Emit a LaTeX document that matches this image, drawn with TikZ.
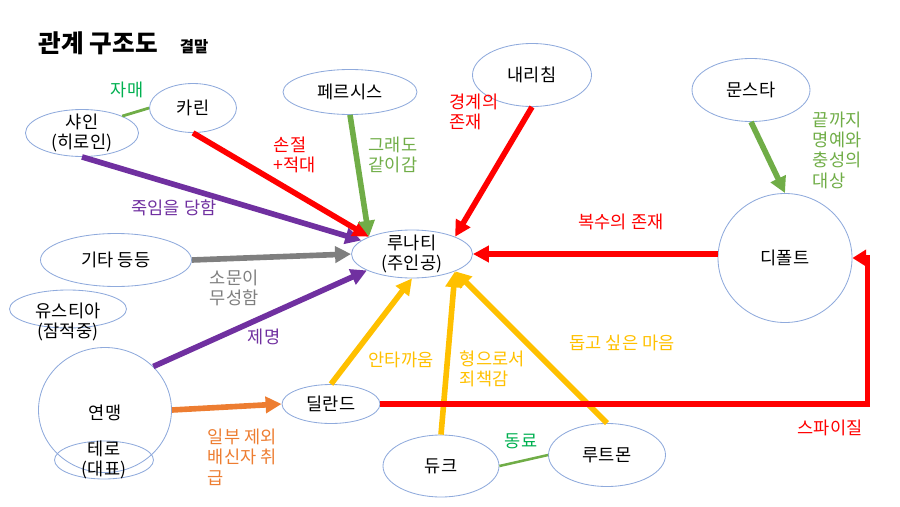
\documentclass[tikz,border=0pt]{standalone}
\usepackage{fontspec}
\setmainfont{Noto Sans CJK KR}
\usetikzlibrary{shapes.geometric,arrows.meta}

\definecolor{ellblue}{HTML}{8FAADC}
\definecolor{kred}{HTML}{FF0000}
\definecolor{kpurple}{HTML}{7030A0}
\definecolor{kgreen}{HTML}{70AD47}
\definecolor{kteal}{HTML}{00B050}
\definecolor{kgray}{HTML}{7F7F7F}
\definecolor{korange}{HTML}{ED7D31}
\definecolor{kyellow}{HTML}{FFC000}

\begin{document}
\begin{tikzpicture}[x=0.025cm,y=-0.025cm,
    >={Triangle[length=4mm,width=4mm]},
    ell/.style={ellipse, draw=ellblue, line width=0.6pt, inner sep=0pt},
    txt/.style={font=\fontsize{12.5}{14.5}\selectfont, align=center},
    lbl/.style={font=\fontsize{12.5}{14.5}\selectfont, align=left},
    rel/.style={line width=4pt}]
        \useasboundingbox (0,0) rectangle (900,506);

        % title
        \node[anchor=west, font=\fontsize{17.5}{20}\selectfont\bfseries] (title) at (34,43) {관계 구조도};
        \node[anchor=west, font=\fontsize{11}{12}\selectfont\bfseries] (ending) at (175,47) {결말};

        % characters
        \node[ell, minimum width=121*0.025cm, minimum height=48*0.025cm] (luna) at (412,254) {};
        \node[txt] (luna-t) at (luna) {루나티\\(주인공)};
        \node[ell, minimum width=113*0.025cm, minimum height=47*0.025cm] (shain) at (82,133) {};
        \node[txt] (shain-t) at (shain) {샤인\\(히로인)};
        \node[ell, minimum width=87*0.025cm, minimum height=49*0.025cm] (karin) at (193,108) {};
        \node[txt] (karin-t) at (karin) {카린};
        \node[ell, minimum width=134*0.025cm, minimum height=45*0.025cm] (persis) at (350,92) {};
        \node[txt] (persis-t) at (persis) {페르시스};
        \node[ell, minimum width=119*0.025cm, minimum height=63*0.025cm] (naeri) at (532,75) {};
        \node[txt] (naeri-t) at (naeri) {내리침};
        \node[ell, minimum width=118*0.025cm, minimum height=63*0.025cm] (moon) at (751,90) {};
        \node[txt] (moon-t) at (moon) {문스타};
        \node[ell, minimum width=134*0.025cm, minimum height=129*0.025cm] (dfault) at (785,258) {};
        \node[txt] (dfault-t) at (dfault) {디폴트};
        \node[ell, minimum width=151*0.025cm, minimum height=53*0.025cm] (etc) at (116,260) {};
        \node[txt] (etc-t) at (etc) {기타 등등};
        \node[ell, minimum width=117*0.025cm, minimum height=38*0.025cm] (eustia) at (68,309) {};
        \node[txt] (eustia-t) at (68,322) {유스티아\\(잠적중)};
        \node[ell, minimum width=133*0.025cm, minimum height=125*0.025cm] (union) at (105,410) {};
        \node[txt] (union-t) at (105,413) {연맹};
        \node[ell, minimum width=99*0.025cm, minimum height=38*0.025cm] (tero) at (104,460) {};
        \node[txt] (tero-t) at (tero) {테로\\(대표)};
        \node[ell, minimum width=98*0.025cm, minimum height=39*0.025cm] (dilland) at (331,404) {};
        \node[txt] (dilland-t) at (dilland) {딜란드};
        \node[ell, minimum width=116*0.025cm, minimum height=62*0.025cm] (duke) at (441,466) {};
        \node[txt] (duke-t) at (duke) {듀크};
        \node[ell, minimum width=117*0.025cm, minimum height=63*0.025cm] (rootmon) at (607,455) {};
        \node[txt] (rootmon-t) at (rootmon) {루트몬};

        % plain ties
        \draw[kgreen, line width=2pt] (shain.north east) -- (karin.west);
        \draw[kgreen, line width=1.8pt] (duke.east) -- (rootmon.west);

        % relations
        \draw[rel, kpurple, ->] (shain.south) -- (luna.165);
        \draw[rel, kred, ->] (karin.south) -- (luna.north west);
        \draw[rel, kgreen, ->] (persis.south) -- (luna.north west);
        \draw[rel, kred, ->] (naeri.south) -- (luna.north east);
        \draw[rel, kgreen, ->] (moon.south) -- (dfault.north);
        \draw[rel, kred, ->] (luna.east -| dfault.west) -- (luna.east);
        \draw[rel, kgray, ->] (etc.east) -- (luna.west);
        \draw[rel, kpurple, ->] (union.42) -- (luna.200);
        \draw[rel, korange, ->] (union.east) -- (dilland.west);
        \draw[rel, kyellow, ->] (dilland.north) -- (luna.south);
        \draw[rel, kyellow, ->] (duke.north) -- (luna.south east);
        \draw[rel, kyellow, ->] (rootmon.north) -- (luna.south east);
        \draw[rel, kred, -{Triangle[length=3.4mm,width=4mm]}] (dilland.east) -- ++(487,0) |- (dfault.east);

        % labels
        \node[lbl, kteal] (l-sis) at (127,90) {자매};
        \node[lbl, kteal] (l-mate) at (521,441) {동료};
        \node[lbl, kred] (l-cut) at (295,155) {손절\\+적대};
        \node[lbl, kgreen] (l-along) at (393,155) {그래도\\같이감};
        \node[lbl, kpurple] (l-killed) at (174,208) {죽임을 당함};
        \node[lbl, kred] (l-wary) at (474,112) {경계의\\존재};
        \node[lbl, kgreen, anchor=west] (l-loyal) at (808,150) {끝까지\\명예와\\충성의\\대상};
        \node[lbl, kred] (l-revenge) at (621,222) {복수의 존재};
        \node[lbl, kgray, anchor=west] (l-rumor) at (205,288) {소문이\\무성함};
        \node[lbl, kpurple] (l-expel) at (264,337) {제명};
        \node[lbl, kyellow] (l-pity) at (401,360) {안타까움};
        \node[lbl, kyellow, anchor=west] (l-guilt) at (455,369) {형으로서\\죄책감};
        \node[lbl, kyellow] (l-help) at (622,343) {돕고 싶은 마음};
        \node[lbl, korange, anchor=north west] (l-traitor) at (203,424) {일부 제외\\배신자 취\\급};
        \node[lbl, kred] (l-spy) at (830,428) {스파이질};
    \end{tikzpicture}
\end{document}
